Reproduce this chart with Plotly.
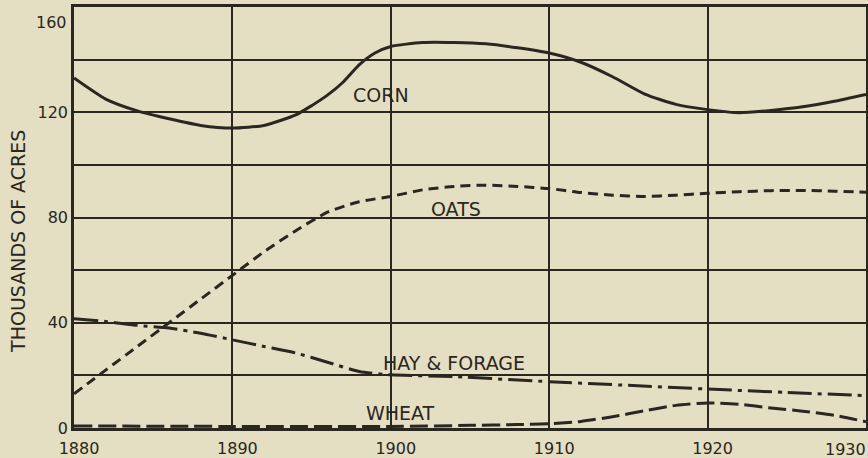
import plotly.graph_objects as go

years_corn = [1880, 1882, 1884, 1886, 1888, 1890, 1892, 1894, 1895, 1896, 1897, 1898, 1899, 1900, 1902, 1904, 1906, 1908, 1910, 1912, 1914, 1916, 1918, 1920, 1922, 1924, 1926, 1928, 1930]
corn = [133, 125, 120.5, 117.5, 115, 114, 115, 119, 122.5, 126.5, 131.5, 138, 142.5, 145, 146.5, 146.5, 146, 144.5, 142.5, 139, 133.5, 127, 123, 121, 119.8, 120.7, 122.1, 124.2, 126.8]

years_oats = [1880, 1882, 1884, 1886, 1888, 1890, 1892, 1894, 1896, 1898, 1900, 1902, 1904, 1906, 1908, 1910, 1912, 1914, 1916, 1918, 1920, 1922, 1924, 1926, 1928, 1930]
oats = [13, 22, 31, 40, 49, 58, 67, 75, 82, 86, 88, 90.5, 91.8, 92.3, 91.8, 91, 89.5, 88.5, 88, 88.5, 89.2, 89.8, 90.2, 90.3, 90, 89.6]

years_hay = [1880, 1882, 1884, 1886, 1888, 1890, 1892, 1894, 1896, 1898, 1900, 1904, 1910, 1915, 1920, 1925, 1930]
hay = [41.5, 40.5, 39, 38, 36, 33.5, 31, 28.5, 25, 21.5, 20.2, 19.5, 17.6, 16.2, 14.8, 13.5, 12.3]

years_wheat = [1880, 1890, 1900, 1905, 1908, 1910, 1912, 1914, 1916, 1918, 1920, 1922, 1924, 1926, 1928, 1930]
wheat = [0.8, 0.6, 0.6, 1.0, 1.3, 1.6, 2.5, 4.3, 6.5, 8.6, 9.5, 9.0, 7.6, 6.4, 4.8, 2.4]

labels = ["CORN", "OATS", "HAY & FORAGE", "WHEAT"]
label_x = [1899.4, 1904.1, 1904.0, 1900.6]
label_y = [126.6, 83.3, 24.7, 5.8]

y_ticks = [0, 20, 40, 60, 80, 100, 120, 140, 160]
y_ticktext = ["0", "", "40", "", "80", "", "120", "", ""]
top_y_label = "160"
x_ticks = [1880, 1890, 1900, 1910, 1920, 1930]
x_ticktext = ["1880", "1890", "1900", "1910", "1920", ""]
last_x_label = "1930"
y_title = "THOUSANDS OF ACRES"

INK = "#2a2620"
BG = "#e4dfc3"
FONT = "DejaVu Sans"

fig = go.Figure()
series = [
    (years_corn, corn, "solid"),
    (years_oats, oats, "10px,6px"),
    (years_hay, hay, "24px,6px,4px,6px"),
    (years_wheat, wheat, "18px,6px"),
]
for xs, ys, dash in series:
    fig.add_trace(go.Scatter(
        x=xs, y=ys, mode="lines",
        line=dict(color=INK, width=3, dash=dash, shape="spline", smoothing=0.6),
        hoverinfo="skip", showlegend=False, cliponaxis=False,
    ))

for t, lx, ly in zip(labels, label_x, label_y):
    fig.add_annotation(x=lx, y=ly, text=t, showarrow=False,
                       font=dict(family=FONT, size=19, color=INK),
                       xanchor="center", yanchor="middle")

# top y label (pushed down to fit inside the page, as in the reference)
fig.add_annotation(x=0, y=1, xref="paper", yref="paper", text=top_y_label,
                   showarrow=False, xanchor="right", yanchor="top",
                   xshift=-5, yshift=-4,
                   font=dict(family=FONT, size=16, color=INK))
# last x label (right-aligned at the page edge)
fig.add_annotation(x=1, y=0, xref="paper", yref="paper", text=last_x_label,
                   showarrow=False, xanchor="right", yanchor="top",
                   xshift=2, yshift=-10,
                   font=dict(family=FONT, size=16, color=INK))
# y-axis title
fig.add_annotation(x=-0.0707, y=0.442, xref="paper", yref="paper", text=y_title,
                   showarrow=False, textangle=-90, xanchor="center", yanchor="middle",
                   font=dict(family=FONT, size=19, color=INK))

fig.update_layout(
    width=868, height=458,
    margin=dict(l=74, r=2, t=7, b=30),
    paper_bgcolor=BG, plot_bgcolor=BG,
    font=dict(family=FONT, color=INK, size=16),
)
fig.update_xaxes(
    range=[1880, 1930], tickvals=x_ticks, ticktext=x_ticktext,
    showgrid=True, gridcolor=INK, gridwidth=1.5,
    showline=True, linecolor=INK, linewidth=2.5, mirror=True,
    ticks="", zeroline=False, automargin=False, ticklabeloverflow="allow",
    ticklabelstandoff=4, ticklabelshift=5,
    tickfont=dict(family=FONT, size=16, color=INK),
)
fig.update_yaxes(
    range=[0, 160], tickvals=y_ticks, ticktext=y_ticktext,
    showgrid=True, gridcolor=INK, gridwidth=1.5,
    showline=True, linecolor=INK, linewidth=2.5, mirror=True,
    ticks="", zeroline=False, automargin=False, ticklabeloverflow="allow",
    tickfont=dict(family=FONT, size=16, color=INK),
)

fig.write_html(
    "out.html",
    config={"displayModeBar": False},
    post_script="document.body.style.margin='0';document.body.style.background='" + BG + "';",
)
